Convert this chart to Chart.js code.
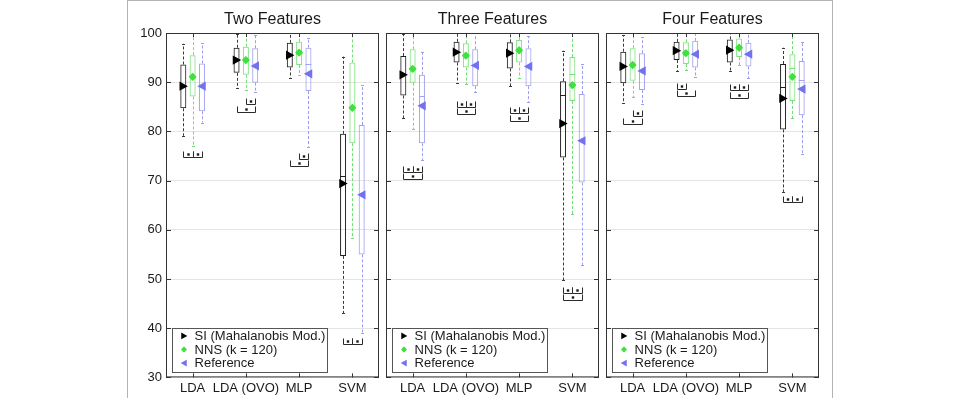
<!DOCTYPE html>
<html><head><meta charset="utf-8">
<script src="https://cdn.jsdelivr.net/npm/chart.js@4.4.1/dist/chart.umd.min.js"></script>
<style>
html,body{margin:0;padding:0;background:#fff;width:963px;height:398px;overflow:hidden}
canvas.c{position:absolute;left:0;top:0}
#frame{position:absolute;left:127px;top:0;width:706px;height:420px;border:1px solid #b4b4b4;box-sizing:border-box}
</style></head><body>
<div id="frame"></div>
<canvas id="c1" class="c" width="963" height="398"></canvas>
<canvas id="c2" class="c" width="963" height="398"></canvas>
<canvas id="c3" class="c" width="963" height="398"></canvas>
<script>
const categories = ['LDA', 'LDA (OVO)', 'MLP', 'SVM'];
const panelTitles = ['Two Features', 'Three Features', 'Four Features'];
const seriesNames = ['SI (Mahalanobis Mod.)', 'NNS (k = 120)', 'Reference'];
const yTicks = [30, 40, 50, 60, 70, 80, 90, 100];

// each row: [lower whisker, q1, median, q3, upper whisker, mean]
const siTwo   = [[79.1, 84.7, 89.3, 93.6, 97.8, 89.2], [88.8, 91.9, 94.6, 97.0, 99.8, 94.5], [90.9, 93.0, 95.6, 98.0, 100, 95.5], [43.0, 54.7, 70.9, 79.5, 95.2, 69.4]];
const nnsTwo  = [[77.1, 87.1, 91.2, 95.5, 100, 91.1], [88.4, 91.5, 94.6, 97.2, 100, 94.5], [91.5, 93.5, 96.0, 98.2, 100, 96.0], [58.3, 77.6, 85.0, 94.0, 100, 84.8]];
const refTwo  = [[81.8, 84.1, 89.3, 93.8, 97.9, 89.2], [88.1, 89.9, 93.4, 96.9, 99.6, 93.3], [76.9, 88.2, 93.7, 97.0, 99.0, 91.7], [39.0, 55.0, 67.2, 81.3, 89.4, 67.1]];

const siThree  = [[82.7, 87.3, 91.6, 95.3, 99.8, 91.5], [89.9, 94.0, 96.2, 98.2, 100, 96.1], [89.2, 92.8, 96.0, 98.1, 100, 95.9], [49.7, 74.7, 87.4, 90.2, 96.4, 81.6]];
const nnsThree = [[80.5, 89.9, 92.8, 96.7, 100, 92.7], [89.6, 93.0, 95.5, 97.9, 100, 95.4], [90.8, 94.0, 96.6, 98.6, 100, 96.5], [63.2, 86.2, 91.7, 95.1, 100, 89.4]];
const refThree = [[74.2, 77.6, 87.1, 91.5, 96.1, 85.2], [88.0, 89.2, 93.5, 96.7, 100, 93.4], [86.0, 89.2, 93.3, 96.9, 99.4, 93.2], [52.8, 69.6, 78.2, 87.6, 93.6, 78.1]];

const siFour  = [[85.8, 89.8, 93.3, 96.2, 99.6, 93.2], [92.3, 94.5, 96.5, 98.2, 100, 96.4], [92.3, 94.0, 96.6, 98.7, 100, 96.5], [67.7, 80.4, 89.1, 93.7, 97.0, 86.7]];
const nnsFour = [[86.9, 90.3, 93.6, 96.9, 100, 93.5], [92.5, 93.7, 96.0, 98.1, 100, 95.9], [93.5, 95.1, 97.1, 98.9, 100, 97.0], [82.7, 86.2, 92.9, 95.7, 100, 91.1]];
const refFour = [[85.5, 88.4, 92.4, 95.9, 99.1, 92.3], [91.0, 93.0, 95.8, 98.4, 100, 95.7], [90.8, 93.2, 95.8, 98.0, 100, 95.7], [75.5, 83.3, 90.4, 94.3, 98.1, 88.6]];

// significance brackets: [category, series A, series B, level]
const sigTwo   = [[0,0,1,74.8],[0,1,2,74.8],[1,0,2,84.0],[1,1,2,85.6],[2,0,2,73.0],[2,1,2,74.4],[3,0,1,36.8],[3,1,2,36.8]];
const sigThree = [[0,0,1,71.8],[0,1,2,71.8],[0,0,2,70.3],[1,0,1,85.0],[1,1,2,85.0],[1,0,2,83.5],[2,0,1,83.7],[2,1,2,83.7],[2,0,2,82.2],[3,0,1,47.2],[3,1,2,47.2],[3,0,2,45.7]];
const sigFour  = [[0,0,2,81.5],[0,1,2,83.2],[1,0,1,88.6],[1,0,2,87.1],[2,0,1,88.4],[2,1,2,88.4],[2,0,2,86.7],[3,0,1,65.7],[3,1,2,65.7]];

// ---- styling / layout ----
const FONT = "'Liberation Sans', Arial, Helvetica, sans-serif";
const PANEL_LEFT = [166, 386, 606];
const PANEL_W = 213;
const YAXIS_W = [46, 0, 0];
const BOX_COL = ['#1e1e1e', '#7fe27f', '#a3a3f3'];
const WHISK_COL = ['#3a3a3a', '#6fe06f', '#9c9cf2'];
const MARK_COL = ['#000000', '#3fe03f', '#7272ee'];

function drawMarker(ctx, k, x, y, s) {
  ctx.save();
  ctx.fillStyle = MARK_COL[k];
  ctx.strokeStyle = MARK_COL[k];
  ctx.beginPath();
  if (k === 0) {
    ctx.moveTo(x - 3.8*s, y - 4.6*s); ctx.lineTo(x + 4.6*s, y); ctx.lineTo(x - 3.8*s, y + 4.6*s);
    ctx.closePath(); ctx.fill();
  } else if (k === 1) {
    ctx.lineJoin = 'round'; ctx.lineWidth = 1.6*s;
    ctx.moveTo(x, y - 3.1*s); ctx.lineTo(x + 3.0*s, y); ctx.lineTo(x, y + 3.1*s); ctx.lineTo(x - 3.0*s, y);
    ctx.closePath(); ctx.fill(); ctx.stroke();
  } else {
    ctx.moveTo(x + 3.8*s, y - 4.6*s); ctx.lineTo(x - 4.6*s, y); ctx.lineTo(x + 3.8*s, y + 4.6*s);
    ctx.closePath(); ctx.fill();
  }
  ctx.restore();
}

function seg(ctx, x1, y1, x2, y2) {
  ctx.beginPath(); ctx.moveTo(x1, y1); ctx.lineTo(x2, y2); ctx.stroke();
}

function makeExtras(series, sig) {
  return {
    id: 'boxExtras',
    afterDatasetsDraw(chart) {
      const ctx = chart.ctx, ys = chart.scales.y, xs = chart.scales.x, ca = chart.chartArea;
      const P = v => ys.getPixelForValue(v);
      // whiskers, medians
      series.forEach((s, k) => {
        const meta = chart.getDatasetMeta(k);
        s.forEach((r, i) => {
          const bar = meta.data[i];
          const cx = Math.round(bar.x) + 0.5, w = bar.width;
          const [lo, q1, med, q3, hi] = r;
          ctx.save();
          ctx.lineWidth = 1;
          ctx.strokeStyle = WHISK_COL[k];
          ctx.setLineDash([3, 2]);
          seg(ctx, cx, P(q3), cx, P(hi));
          seg(ctx, cx, P(q1), cx, P(lo));
          ctx.setLineDash([]);
          seg(ctx, cx - 1.5, Math.round(P(hi)) + 0.5, cx + 1.5, Math.round(P(hi)) + 0.5);
          seg(ctx, cx - 1.5, Math.round(P(lo)) + 0.5, cx + 1.5, Math.round(P(lo)) + 0.5);
          ctx.strokeStyle = BOX_COL[k];
          seg(ctx, bar.x - w/2, Math.round(P(med)) + 0.5, bar.x + w/2, Math.round(P(med)) + 0.5);
          ctx.restore();
        });
      });
      // means
      series.forEach((s, k) => {
        const meta = chart.getDatasetMeta(k);
        s.forEach((r, i) => drawMarker(ctx, k, meta.data[i].x, P(r[5]), 1));
      });
      // significance brackets
      ctx.save();
      ctx.strokeStyle = '#2a2a2a'; ctx.fillStyle = '#1a1a1a'; ctx.lineWidth = 1;
      sig.forEach(([c, a, b, v]) => {
        const xa = Math.round(chart.getDatasetMeta(a).data[c].x) + 0.5;
        const xb = Math.round(chart.getDatasetMeta(b).data[c].x) + 0.5;
        const yl = Math.round(P(v)) + 0.5;
        ctx.beginPath();
        ctx.moveTo(xa, yl - 6); ctx.lineTo(xa, yl); ctx.lineTo(xb, yl); ctx.lineTo(xb, yl - 6);
        ctx.stroke();
        ctx.fillRect((xa + xb)/2 - 1.2, yl - 4.2, 2.4, 2.4);
      });
      ctx.restore();
      // frame and inward ticks
      ctx.save();
      ctx.strokeStyle = '#333'; ctx.lineWidth = 1;
      ctx.strokeRect(ca.left + 0.5, ca.top + 0.5, ca.right - ca.left - 1, ca.bottom - ca.top - 1);
      ys.ticks.forEach(t => {
        const py = Math.round(P(t.value)) + 0.5;
        seg(ctx, ca.left, py, ca.left + 5, py);
        seg(ctx, ca.right - 5, py, ca.right, py);
      });
      categories.forEach((c, i) => {
        const px = Math.round(xs.getPixelForValue(i)) + 0.5;
        seg(ctx, px, ca.bottom, px, ca.bottom - 4);
        seg(ctx, px, ca.top, px, ca.top + 4);
      });
      ctx.restore();
      // legend
      const lx = ca.left + 6, ly = ca.bottom - 49.1, lw = 155, lh = 44;
      ctx.save();
      ctx.fillStyle = '#fff';
      ctx.fillRect(lx, ly, lw, lh);
      ctx.strokeStyle = '#555'; ctx.lineWidth = 1;
      ctx.strokeRect(Math.round(lx) + 0.5, Math.round(ly) + 0.5, lw, lh);
      ctx.font = '13px ' + FONT;
      ctx.textBaseline = 'middle';
      chart.data.datasets.forEach((d, k) => {
        const ry = ly + 7.6 + k * 13.6;
        drawMarker(ctx, k, lx + 12, ry, 0.72);
        ctx.fillStyle = '#1a1a1a';
        ctx.fillText(d.label, lx + 22.6, ry + 0.5);
      });
      ctx.restore();
    }
  };
}

function makeChart(id, idx, series, sig) {
  const L = PANEL_LEFT[idx], R = L + PANEL_W, YW = YAXIS_W[idx];
  const datasets = series.map((s, k) => ({
    label: seriesNames[k],
    data: s.map(r => [r[1], r[3]]),
    backgroundColor: 'rgba(0,0,0,0)',
    borderColor: BOX_COL[k],
    borderWidth: 1,
    borderSkipped: false,
    categoryPercentage: 0.525,
    barPercentage: 0.645
  }));
  return new Chart(document.getElementById(id), {
    type: 'bar',
    data: { labels: categories, datasets },
    options: {
      responsive: false, animation: false, devicePixelRatio: 1,
      layout: { padding: { left: L - YW, right: 963 - R, top: 0, bottom: 0 } },
      plugins: {
        legend: { display: false }, tooltip: { enabled: false },
        title: { display: true, fullSize: false, text: panelTitles[idx], color: '#1a1a1a',
          font: { family: FONT, size: 16, weight: 'normal' }, padding: { top: 10.4, bottom: 3.4 } }
      },
      scales: {
        x: {
          type: 'category', grid: { display: false, drawTicks: false }, border: { display: false },
          ticks: { font: { family: FONT, size: 13 }, color: '#1a1a1a', padding: 3, maxRotation: 0, minRotation: 0, autoSkip: false },
          afterFit: s => { s.height = 20.6; }
        },
        y: {
          min: 30, max: 100,
          afterBuildTicks: s => { s.ticks = yTicks.map(v => ({ value: v })); },
          grid: { color: '#e4e4e4', drawTicks: false }, border: { display: false },
          ticks: { display: idx === 0, font: { family: FONT, size: 13 }, color: '#1a1a1a', padding: 4 },
          afterFit: s => { s.width = YW; }
        }
      }
    },
    plugins: [makeExtras(series, sig)]
  });
}

makeChart('c1', 0, [siTwo, nnsTwo, refTwo], sigTwo);
makeChart('c2', 1, [siThree, nnsThree, refThree], sigThree);
makeChart('c3', 2, [siFour, nnsFour, refFour], sigFour);
</script>
</body></html>
